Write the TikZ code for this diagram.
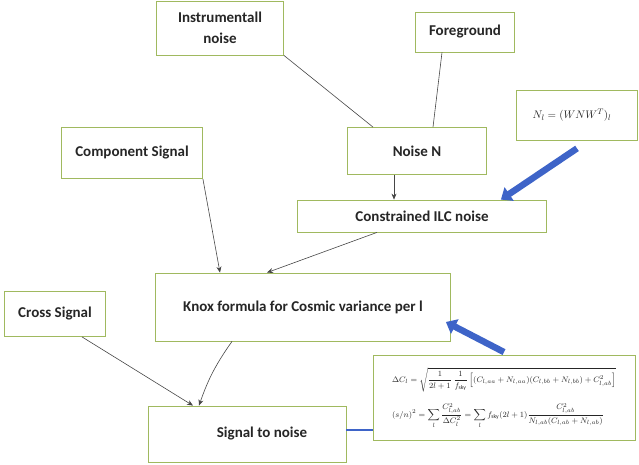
\documentclass[tikz,border=0pt]{standalone}
\usepackage{fontspec}
\usepackage{amsmath}
\setmainfont{Carlito}
\usetikzlibrary{arrows.meta,calc}
\definecolor{boxline}{RGB}{160,185,95}
\definecolor{linkgray}{RGB}{70,70,70}
\definecolor{hintblue}{RGB}{62,100,200}
\tikzset{
  box/.style={draw=boxline,line width=0.8pt,fill=white,inner sep=2pt,
    font=\fontsize{15}{21}\selectfont\bfseries,text=black!85,align=center},
  link/.style={draw=linkgray,line width=0.6pt},
  flow/.style={link,-{Stealth[length=6pt,width=5pt]}},
  bluearrow/.style={draw=hintblue,line width=6.5pt,
    -{Triangle[length=10pt,width=16pt]}},
}
\begin{document}
\begin{tikzpicture}[x=1pt,y=-1pt]
\useasboundingbox (0,0) rectangle (639,465);

% input boxes
\node[box,minimum width=127pt,minimum height=54pt] (inst) at (220,28) {Instrumentall\\noise};
\node[box,minimum width=99pt,minimum height=40pt] (fg) at (465,32) {Foreground};
\node[box,minimum width=121pt,minimum height=50pt,font=\fontsize{11}{13}\selectfont] (nl) at (577,115) {\hspace*{-10pt}$N_l=(WNW^T)_l$};
\node[box,minimum width=139pt,minimum height=47pt] (noise) at (417,151) {Noise N};
\node[box,minimum width=249pt,minimum height=32pt] (ilc) at (422,216) {Constrained ILC noise};
\node[box,minimum width=141pt,minimum height=51pt] (comp) at (132,153) {Component Signal};
\node[box,minimum width=295pt,minimum height=68pt] (knox) at (303,307) {Knox formula for Cosmic variance per l};
\node[box,minimum width=101pt,minimum height=45pt] (cross) at (55,314) {Cross Signal};
\node[box,minimum width=198pt,minimum height=56pt] (sn) at (247,434) {\hspace*{30pt}Signal to noise};

% formula box
\node[box,minimum width=262pt,minimum height=85pt,font=\fontsize{8.2}{10}\selectfont,align=left] (form) at (504,398)
{$\displaystyle \Delta C_l=\sqrt{\frac{1}{2l+1}\,\frac{1}{f_{\mathrm{sky}}}\left[(C_{l,aa}+N_{l,aa})(C_{l,bb}+N_{l,bb})+C^2_{l,ab}\right]}$\\[10pt]
 $\displaystyle (s/n)^2=\sum_l\frac{C^2_{l,ab}}{\Delta C_l^2}=\sum_l f_{\mathrm{sky}}(2l+1)\frac{C^2_{l,ab}}{N_{l,ab}(C_{l,ab}+N_{l,ab})}$};

% plain links into the noise box
\draw[link] (inst.south east) -- ([xshift=-44pt]noise.north);
\draw[link] ([xshift=-23pt]fg.south) -- ([xshift=16pt]noise.north);

% arrows
\draw[flow] ([xshift=-23pt]noise.south) -- ([xshift=-23pt]noise.south |- ilc.north);
\draw[flow] ([xshift=-45pt]ilc.south) -- ([xshift=-36pt]knox.north);
\draw[flow] (comp.south east) -- ([xshift=-83pt]knox.north);
\draw[flow] ([xshift=27pt]cross.south) -- ([xshift=-54pt]sn.north);
\draw[flow] ([xshift=-71pt]knox.south) to[bend right=8] ([xshift=-48pt]sn.north);

% blue pointers
\draw[bluearrow] ([yshift=-8pt]nl.south) -- ([xshift=-46pt]ilc.north east);
\draw[bluearrow] ([yshift=3pt]form.north) -- ([xshift=-5pt,yshift=-15pt]knox.east);
\draw[draw=hintblue,line width=2.5pt] ([yshift=4pt]sn.east) -- ([yshift=4pt]sn.east -| form.west);
\end{tikzpicture}
\end{document}
